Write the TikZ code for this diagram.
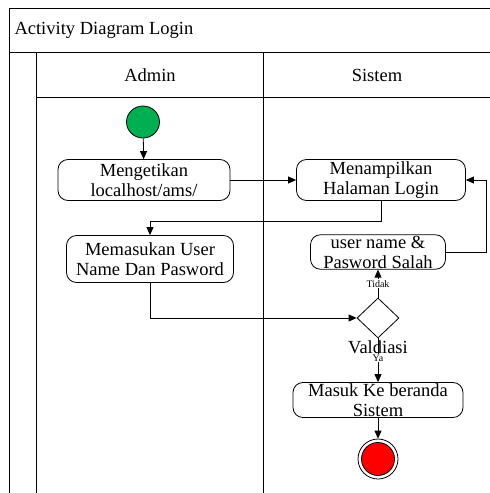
\documentclass[tikz,border=0pt]{standalone}
\usepackage{fontspec}
\setmainfont{Liberation Serif}
\usetikzlibrary{arrows.meta, positioning, shapes.geometric}
\definecolor{startgreen}{RGB}{0,176,80}
\definecolor{endred}{RGB}{255,0,0}

\begin{document}
\begin{tikzpicture}[
    x=1pt, y=-1pt,
    font=\fontsize{18.5}{20}\selectfont,
    act/.style={rectangle, draw, line width=0.8pt, rounded corners=10pt, align=center, inner sep=1pt},
    arrow/.style={-{Triangle[length=8pt, width=7pt]}, line width=0.8pt},
    lane/.style={line width=1pt},
    lbl/.style={font=\fontsize{10}{11}\selectfont, fill=white, inner sep=1pt}
]
    \useasboundingbox (0,0) rectangle (490,493);

    % kerangka swimlane
    \draw[lane] (9,493) -- (9,8) -- (490,8);
    \draw[lane] (9,52) -- (490,52);
    \draw[lane] (36,493) -- (36,52);
    \draw[lane] (263,493) -- (263,52);
    \draw[lane] (36,97) -- (490,97);
    \node[anchor=west] (title) at (11,30) {Activity Diagram Login};
    \node (admin) at (150,75) {Admin};
    \node (sistem) at (377,75) {Sistem};

    % mulai
    \node[ellipse, draw, line width=0.8pt, fill=startgreen, minimum width=33, minimum height=32] (start) at (143,122) {};

    % aktivitas
    \node[act, minimum width=172, minimum height=41] (ketik) at (144,180) {Mengetikan\\localhost/ams/};
    \node[act, minimum width=169, minimum height=41] (tampil) at (381,180) {Menampilkan\\Halaman Login};
    \node[act, minimum width=167, minimum height=47] (masukan) at (150,259) {Memasukan User\\Name Dan Pasword};
    \node[act, minimum width=135, minimum height=34] (salah) at (378,252) {user name \&\\Pasword Salah};

    % validasi
    \node[diamond, draw, line width=0.8pt, minimum width=42, minimum height=40, inner sep=0pt] (cek) at (378,318) {};
    \node[below=-1pt of cek] (cekText) {Valdiasi};

    \node[act, minimum width=170, minimum height=35] (beranda) at (378,400) {Masuk Ke beranda\\Sistem};

    % selesai
    \node[circle, draw, line width=0.8pt, minimum size=40] (stop) at (378,459) {};
    \node[circle, draw, line width=0.8pt, fill=endred, minimum size=33] (stopDot) at (stop) {};

    % alur
    \draw[arrow] (start) -- (ketik);
    \draw[arrow] (ketik) -- (tampil);
    \draw[arrow] (tampil.south) -- ++(0,20) -| (masukan.north);
    \draw[arrow] (masukan.south) |- (cek.west);
    \draw[arrow] (cek.north) -- node[lbl] {Tidak} (salah.south);
    \draw[arrow] (salah.east) -- ++(40,0) |- (tampil.east);
    \draw[arrow] (cek.south) -- node[lbl, pos=0.45] {Ya} (beranda.north);
    \draw[arrow] (beranda) -- (stop);
\end{tikzpicture}
\end{document}
